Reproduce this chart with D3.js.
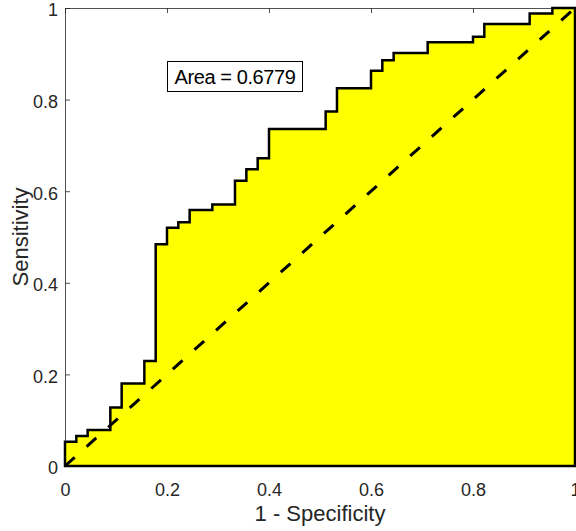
<!DOCTYPE html>
<html>
<head>
<meta charset="utf-8">
<script src="https://cdn.jsdelivr.net/npm/d3@7"></script>
<style>
  body { margin: 0; background: #fff; }
  svg { font-family: "Liberation Sans", Arial, sans-serif; }
  .axis path, .axis line { stroke: #262626; stroke-width: 0.8; }
  .axis text { fill: #262626; font-size: 18px; }
</style>
</head>
<body>
<div id="roc"></div>
<script>
var w = 576,
    h = 531;
var margin = { top: 8, right: 1, bottom: 65, left: 65 };

// ROC points (step curve)
var fpr = [0, 0, 0.0222, 0.0444, 0.0889, 0.1111, 0.1556, 0.1778, 0.2, 0.2222, 0.2444,
           0.2889, 0.3333, 0.3556, 0.3778, 0.4, 0.5111, 0.5333, 0.6, 0.6222, 0.6444,
           0.7111, 0.8, 0.8222, 0.9111, 0.9556, 1];
var tpr = [0, 0.053, 0.0655, 0.0786, 0.128, 0.18, 0.229, 0.484, 0.52, 0.532, 0.559,
           0.571, 0.623, 0.648, 0.672, 0.736, 0.774, 0.825, 0.863, 0.886, 0.902,
           0.925, 0.937, 0.965, 0.988, 1.0, 1.0];
var chance = [0, 1];
var ticks = [0, 0.2, 0.4, 0.6, 0.8, 1];
var areaText = "Area = 0.6779";

var points = fpr.map(function(d, i) { return { x: d, y: tpr[i] }; });

var svg = d3.select("#roc").append("svg")
  .attr("width", w)
  .attr("height", h);

var x = d3.scaleLinear()
  .domain([0, 1])
  .range([margin.left, w - margin.right]);
var y = d3.scaleLinear()
  .domain([0, 1])
  .range([h - margin.bottom, margin.top]);

var fmt = function(d) { return d3.format("~g")(d); };

svg.append("g")
  .attr("class", "axis")
  .attr("transform", "translate(0," + y(0) + ")")
  .call(d3.axisBottom(x).tickValues(ticks).tickFormat(fmt)
    .tickSizeInner(-5).tickSizeOuter(0).tickPadding(17));
svg.append("g")
  .attr("class", "axis")
  .attr("transform", "translate(" + x(0) + ",0)")
  .call(d3.axisLeft(y).tickValues(ticks).tickFormat(fmt)
    .tickSizeInner(-5).tickSizeOuter(0).tickPadding(7))
  .selectAll("text")
    .attr("dy", "0.44em");
svg.append("g")
  .attr("class", "axis")
  .attr("transform", "translate(0," + y(1) + ")")
  .call(d3.axisTop(x).tickValues(ticks).tickFormat("")
    .tickSizeInner(-5).tickSizeOuter(0));
svg.append("g")
  .attr("class", "axis")
  .attr("transform", "translate(" + x(1) + ",0)")
  .call(d3.axisRight(y).tickValues(ticks).tickFormat("")
    .tickSizeInner(-5).tickSizeOuter(0));

var area = d3.area()
  .curve(d3.curveStepAfter)
  .x(function(d) { return x(d.x); })
  .y0(y(0))
  .y1(function(d) { return y(d.y); });

svg.append("path")
  .datum(points)
  .attr("d", area)
  .attr("fill", "#ffff00")
  .attr("stroke", "black")
  .attr("stroke-width", 2.5)
  .attr("stroke-linejoin", "miter");

svg.append("line")
  .attr("x1", x(chance[0]))
  .attr("y1", y(chance[0]))
  .attr("x2", x(chance[1]))
  .attr("y2", y(chance[1]))
  .attr("stroke", "black")
  .attr("stroke-width", 3)
  .attr("stroke-dasharray", "13,16");

// area label
svg.append("rect")
  .attr("x", 167.5)
  .attr("y", 61.5)
  .attr("width", 135)
  .attr("height", 30)
  .attr("fill", "white")
  .attr("stroke", "black")
  .attr("stroke-width", 1);
svg.append("text")
  .attr("x", 235)
  .attr("y", 84)
  .attr("text-anchor", "middle")
  .attr("font-size", "20px")
  .attr("letter-spacing", "-0.4px")
  .attr("fill", "black")
  .text(areaText);

svg.append("text")
  .attr("x", (x(0) + x(1)) / 2)
  .attr("y", 521)
  .attr("text-anchor", "middle")
  .attr("font-size", "22px")
  .attr("fill", "#262626")
  .text("1 - Specificity");
svg.append("text")
  .attr("transform", "translate(28," + (y(0) + y(1)) / 2 + ")rotate(-90)")
  .attr("text-anchor", "middle")
  .attr("font-size", "22px")
  .attr("fill", "#262626")
  .text("Sensitivity");
</script>
</body>
</html>
